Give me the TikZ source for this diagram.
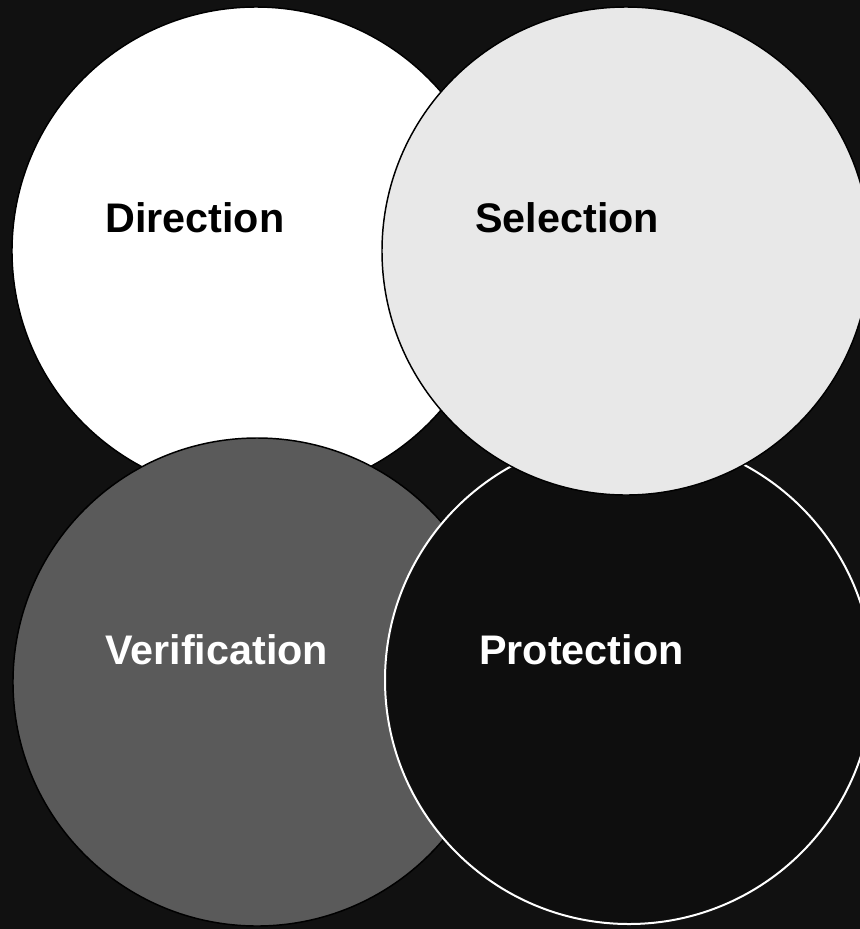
\documentclass[tikz,border=0pt]{standalone}
\usepackage{fontspec}
\setmainfont{Liberation Sans}

\begin{document}
\begin{tikzpicture}[x=0.75pt,y=0.75pt,yscale=-1,xscale=1]
\tikzset{
  lbl/.style={anchor=west,inner sep=0.75pt,font=\fontsize{31}{37}\selectfont\bfseries}
}
%set diagram to 860 x 929, the right hand circles run past the edge
\clip (0,0) rectangle (860,929) ;
\path [fill={rgb, 255:red, 17; green, 17; blue, 17 }] (0,0) rectangle (860,929) ;

%Shape: Circle [id:direction]
\draw [line width=1.1, fill={rgb, 255:red, 255; green, 255; blue, 255 }] (256,251) circle (244) ;
%Shape: Circle [id:verification]
\draw [line width=1.1, fill={rgb, 255:red, 90; green, 90; blue, 90 }] (257,682) circle (244) ;
%Shape: Circle [id:protection]
\draw [color=white, line width=1.5, fill={rgb, 255:red, 14; green, 14; blue, 14 }] (629,680) circle (244) ;
%Shape: Circle [id:selection]
\draw [line width=1.1, fill={rgb, 255:red, 232; green, 232; blue, 232 }] (626,251) circle (244) ;

% Text Node
\node (dir) [lbl, text=black] at (104,218) {Direction};
% Text Node
\node (sel) [lbl, text=black] at (474,218) {Selection};
% Text Node
\node (ver) [lbl, text=white] at (104,650) {Verification};
% Text Node
\node (pro) [lbl, text=white] at (478,650) {Protection};

\end{tikzpicture}
\end{document}
